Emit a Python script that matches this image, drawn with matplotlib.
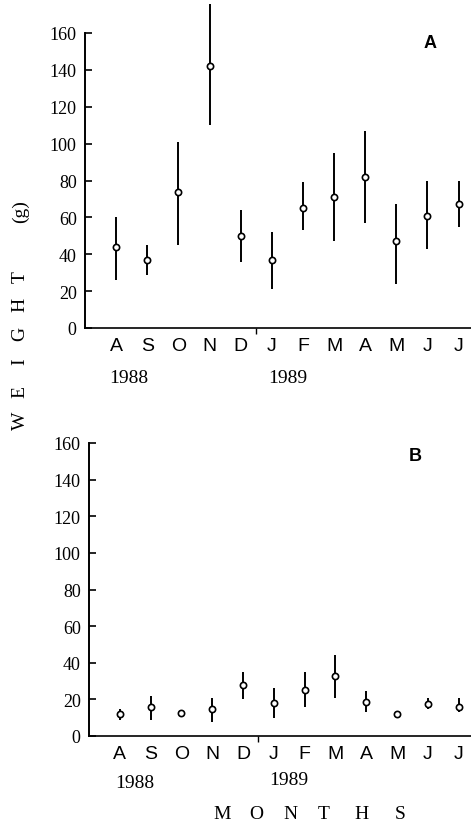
import matplotlib
matplotlib.use("Agg")
import matplotlib.pyplot as plt
import numpy as np

months = ["A", "S", "O", "N", "D", "J", "F", "M", "A", "M", "J", "J"]
pos = np.arange(1, 13)

# panel A: mean weight and range ends (g)
a_mean = [44, 37, 74, 142, 50, 37, 65, 71, 82, 47, 61, 67]
a_low = [26, 29, 45, 110, 36, 21, 53, 47, 57, 24, 43, 55]
a_high = [60, 45, 101, 176, 64, 52, 79, 95, 107, 67, 80, 80]

# panel B
b_mean = [12, 16, 12.5, 15, 28, 18, 25, 33, 18.5, 12, 17.5, 16]
b_low = [9, 9, 11.5, 7.5, 20, 10, 16, 21, 13, 10, 15, 13]
b_high = [15, 22, 13.5, 21, 35, 26, 35, 44, 24.5, 13.5, 21, 21]

serif = "Liberation Serif"
sans = "Liberation Sans"

W, H = 471, 829
fig = plt.figure(figsize=(4.71, 8.29), dpi=100)
ax_a = fig.add_axes([85 / W, 1 - 329 / H, 386 / W, 295 / H])
ax_b = fig.add_axes([89 / W, 1 - 737 / H, 382 / W, 293 / H])


def draw(ax, mean, low, high, tag, tag_x, tag_y):
    mean = np.array(mean)
    err = [mean - np.array(low), np.array(high) - mean]
    ax.errorbar(pos, mean, yerr=err, fmt="o", ms=4.5, mfc="white", mec="black",
                mew=1.2, ecolor="black", elinewidth=1.4, capsize=0, clip_on=False,
                zorder=3)
    ax.set_xlim(0, 12.4)
    ax.set_ylim(0, 160)
    for s in ["top", "right"]:
        ax.spines[s].set_visible(False)
    ax.spines["left"].set_linewidth(1.4)
    ax.spines["bottom"].set_linewidth(1.2)
    ax.set_yticks(range(0, 161, 20))
    ax.tick_params(axis="y", direction="in", length=5, width=1.2, pad=6,
                   labelsize=13)
    for lab in ax.get_yticklabels():
        lab.set_family(serif)
    ax.set_xticks([5.5])
    ax.set_xticklabels([""])
    ax.tick_params(axis="x", direction="out", length=4, width=1)
    for p, m in zip(pos, months):
        ax.text(p, -5, m, ha="center", va="top", fontsize=14, family=sans)
    ax.text(tag_x, tag_y, tag, ha="center", va="center", fontsize=13,
            fontweight="bold", family=sans)


draw(ax_a, a_mean, a_low, a_high, "A", 11.1, 155)
draw(ax_b, b_mean, b_low, b_high, "B", 10.6, 153)

ax_a.text(1.4, -22, "1988", ha="center", va="top", fontsize=14, family=serif)
ax_a.text(6.5, -22, "1989", ha="center", va="top", fontsize=14, family=serif)
ax_b.text(1.5, -21, "1988", ha="center", va="top", fontsize=14, family=serif)
ax_b.text(6.5, -19, "1989", ha="center", va="top", fontsize=14, family=serif)

# spaced-out axis titles, one letter at a time
ylab = ["W", "E", "I", "G", "H", "T", "(g)"]
ylab_y = [421, 392, 362, 334, 305, 277, 212]
for ch, y in zip(ylab, ylab_y):
    fig.text(20 / W, 1 - y / H, ch, rotation=90, ha="center", va="center",
             fontsize=14, family=serif)

xlab = ["M", "O", "N", "T", "H", "S"]
xlab_x = [222, 256, 290, 324, 362, 400]
for ch, x in zip(xlab, xlab_x):
    fig.text(x / W, 1 - 815 / H, ch, ha="center", va="center", fontsize=14,
             family=serif)

fig.savefig("out.png", dpi=100)
